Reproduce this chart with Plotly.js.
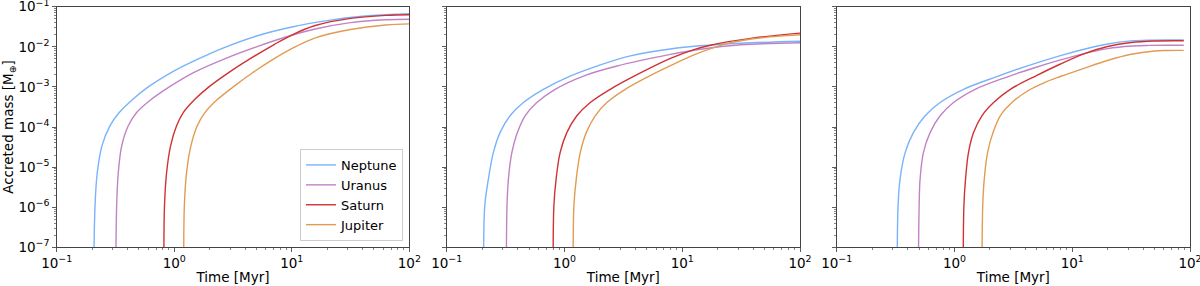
<!DOCTYPE html>
<html>
<head>
<meta charset="utf-8">
<script src="https://cdn.plot.ly/plotly-3.0.1.min.js"></script>
<style>html,body{margin:0;padding:0;background:#fff}#chart{width:1200px;height:286px}</style>
</head>
<body>
<div id="chart"></div>
<script>
// ---- data (Time in Myr, accreted mass in Earth masses) ----
const planets = ["Neptune", "Uranus", "Saturn", "Jupiter"];
const colors = ["#78b3fb", "#c084c4", "#d03234", "#e09c52"];

// Panel 1
const p1_neptune_t = [0.2061, 0.2118, 0.2213, 0.2427, 0.2838, 0.3404, 0.4477, 0.6012, 1.0, 1.5849, 2.6303, 5.0119, 10, 19.953, 39.811, 79.433, 100];
const p1_neptune_m = [1e-8, 1.07e-6, 7.24e-6, 3.39e-5, 1.07e-4, 2.29e-4, 5.01e-4, 1.0e-3, 2.518e-3, 4.909e-3, 9.441e-3, 1.858e-2, 3.119e-2, 4.498e-2, 5.768e-2, 6.531e-2, 6.683e-2];
const p1_uranus_t = [0.3177, 0.3236, 0.3342, 0.3573, 0.4064, 0.4786, 0.6209, 0.9078, 1.4454, 2.8184, 5.0119, 8.9125, 15.849, 31.623, 63.096, 100];
const p1_uranus_m = [1e-8, 1.07e-6, 7.24e-6, 3.39e-5, 1.07e-4, 2.29e-4, 4.581e-4, 1.0e-3, 2.249e-3, 5.321e-3, 1.0e-2, 1.754e-2, 2.780e-2, 4.009e-2, 4.742e-2, 4.875e-2];
const p1_saturn_t = [0.8166, 0.8260, 0.8610, 0.9311, 1.0471, 1.1940, 1.4997, 1.9724, 2.8840, 4.4668, 7.0795, 10, 15.849, 31.623, 63.096, 100];
const p1_saturn_m = [1e-8, 1.07e-6, 7.24e-6, 3.39e-5, 1.07e-4, 2.29e-4, 4.898e-4, 1.0e-3, 2.239e-3, 5.129e-3, 1.140e-2, 1.968e-2, 3.396e-2, 5.105e-2, 6.067e-2, 6.281e-2];
const p1_jupiter_t = [1.2050, 1.2190, 1.2735, 1.3868, 1.5704, 1.8239, 2.2909, 3.1769, 4.5709, 6.6069, 10, 15.849, 31.623, 63.096, 100];
const p1_jupiter_m = [1e-8, 1.07e-6, 7.24e-6, 3.39e-5, 1.07e-4, 2.29e-4, 4.634e-4, 1.0e-3, 2.188e-3, 4.467e-3, 9.016e-3, 1.675e-2, 2.698e-2, 3.499e-2, 3.724e-2];

// Panel 2
const p2_neptune_t = [0.2061, 0.2104, 0.2259, 0.2489, 0.2838, 0.3451, 0.4477, 0.6622, 1.1169, 1.8880, 3.6308, 7.9433, 14.125, 31.623, 100];
const p2_neptune_m = [1e-8, 1.07e-6, 5.012e-6, 2.291e-5, 7.244e-5, 1.905e-4, 4.074e-4, 8.710e-4, 1.862e-3, 3.311e-3, 5.929e-3, 8.810e-3, 1.059e-2, 1.230e-2, 1.380e-2];
const p2_uranus_t = [0.3206, 0.3251, 0.3342, 0.3573, 0.3981, 0.4634, 0.5821, 0.8337, 1.4521, 2.7925, 7.9250, 14.256, 31.623, 100];
const p2_uranus_m = [1e-8, 1.07e-6, 5.012e-6, 2.291e-5, 7.244e-5, 1.905e-4, 4.074e-4, 8.710e-4, 1.862e-3, 3.311e-3, 6.457e-3, 8.710e-3, 1.122e-2, 1.259e-2];
const p2_saturn_t = [0.8017, 0.8128, 0.8492, 0.9183, 1.0471, 1.2735, 1.6558, 2.4491, 4.1687, 7.9433, 12.589, 17.378, 38.019, 100];
const p2_saturn_m = [1e-8, 1.07e-6, 5.012e-6, 2.291e-5, 7.244e-5, 1.905e-4, 4.074e-4, 8.710e-4, 2.042e-3, 5.129e-3, 8.511e-3, 1.096e-2, 1.622e-2, 2.188e-2];
const p2_jupiter_t = [1.1858, 1.2023, 1.2589, 1.3614, 1.5311, 1.8239, 2.2909, 3.2810, 5.0119, 7.9433, 12.589, 23.988, 39.811, 63.096, 100];
const p2_jupiter_m = [1e-8, 1.07e-6, 5.012e-6, 2.291e-5, 7.244e-5, 1.905e-4, 4.074e-4, 8.710e-4, 1.738e-3, 3.388e-3, 6.310e-3, 1.202e-2, 1.585e-2, 1.820e-2, 1.995e-2];

// Panel 3
const p3_neptune_t = [0.3258, 0.3319, 0.3451, 0.3811, 0.4477, 0.5636, 0.7551, 1.1940, 2.2909, 4.1687, 7.9433, 12.589, 19.953, 31.623, 44.668, 88.51];
const p3_neptune_m = [1e-8, 1.07e-6, 5.012e-6, 2.291e-5, 7.244e-5, 1.905e-4, 4.074e-4, 8.710e-4, 1.807e-3, 3.342e-3, 6.039e-3, 8.710e-3, 1.175e-2, 1.403e-2, 1.469e-2, 1.479e-2];
const p3_uranus_t = [0.4920, 0.5012, 0.5105, 0.5445, 0.6209, 0.7551, 0.9817, 1.4997, 2.8184, 5.0119, 7.9433, 12.589, 19.953, 31.623, 44.668, 88.51];
const p3_uranus_m = [1e-8, 1.07e-6, 5.012e-6, 2.291e-5, 7.244e-5, 1.905e-4, 4.074e-4, 8.710e-4, 1.786e-3, 3.133e-3, 4.710e-3, 6.761e-3, 9.016e-3, 1.047e-2, 1.084e-2, 1.089e-2];
const p3_saturn_t = [1.1858, 1.2023, 1.2417, 1.3152, 1.4521, 1.7100, 2.1478, 2.9785, 5.0119, 7.9433, 12.589, 19.953, 31.623, 50.119, 88.51];
const p3_saturn_m = [1e-8, 1.07e-6, 5.012e-6, 2.291e-5, 7.244e-5, 1.905e-4, 4.074e-4, 8.710e-4, 1.936e-3, 3.724e-3, 6.653e-3, 1.016e-2, 1.279e-2, 1.396e-2, 1.413e-2];
const p3_jupiter_t = [1.7100, 1.7378, 1.7906, 1.9099, 2.1232, 2.4491, 3.0761, 4.1687, 5.7544, 7.9433, 12.589, 19.953, 31.623, 50.119, 63.096, 88.51];
const p3_jupiter_m = [1e-8, 1.07e-6, 5.012e-6, 2.291e-5, 7.244e-5, 1.905e-4, 4.074e-4, 7.907e-4, 1.265e-3, 1.816e-3, 2.911e-3, 4.550e-3, 6.501e-3, 7.852e-3, 8.091e-3, 8.128e-3];

// tick labels
const xTickVals = [0.1, 1, 10, 100];
const xTickText = ["10<sup>−1</sup>", "10<sup>0</sup>", "10<sup>1</sup>", "10<sup>2</sup>"];
const yTickVals = [1e-7, 1e-6, 1e-5, 1e-4, 1e-3, 1e-2, 1e-1];
const yTickText = ["10<sup>−7</sup>", "10<sup>−6</sup>", "10<sup>−5</sup>", "10<sup>−4</sup>", "10<sup>−3</sup>", "10<sup>−2</sup>", "10<sup>−1</sup>"];
const xTitle = "Time [Myr]";
const yTitle = "Accreted mass [M<sub>⊕</sub>]";

// ---- build ----
const panels = [
  [[p1_neptune_t, p1_neptune_m], [p1_uranus_t, p1_uranus_m], [p1_saturn_t, p1_saturn_m], [p1_jupiter_t, p1_jupiter_m]],
  [[p2_neptune_t, p2_neptune_m], [p2_uranus_t, p2_uranus_m], [p2_saturn_t, p2_saturn_m], [p2_jupiter_t, p2_jupiter_m]],
  [[p3_neptune_t, p3_neptune_m], [p3_uranus_t, p3_uranus_m], [p3_saturn_t, p3_saturn_m], [p3_jupiter_t, p3_jupiter_m]]
];

const traces = [];
panels.forEach((series, pi) => {
  series.forEach((s, si) => {
    traces.push({
      x: s[0], y: s[1], type: "scatter", mode: "lines",
      name: planets[si],
      line: {color: colors[si], width: 1.4, shape: "spline", smoothing: 1.0},
      xaxis: pi === 0 ? "x" : "x" + (pi + 1),
      yaxis: pi === 0 ? "y" : "y" + (pi + 1),
      showlegend: pi === 0,
      hoverinfo: "skip"
    });
  });
});

function minorVals(lo, hi) {
  const v = [];
  for (let e = lo; e < hi; e++) for (let k = 2; k <= 9; k++) v.push(k * Math.pow(10, e));
  return v;
}

const W = 1200, H = 286;
const xdoms = [[56.7, 409.3], [446.7, 800], [836.7, 1190]];
const ydom = [1 - 247.3 / H, 1 - 6.7 / H];
const FF = "DejaVu Sans, sans-serif";
const FS = 13.5;

const layout = {
  width: W, height: H,
  margin: {l: 0, r: 0, t: 0, b: 0},
  paper_bgcolor: "#fff", plot_bgcolor: "#fff",
  font: {family: FF, size: FS, color: "#000"},
  showlegend: true,
  legend: {
    x: 403 / W, xanchor: "right", y: 1 - 241 / H, yanchor: "bottom",
    bgcolor: "rgba(255,255,255,0.8)", bordercolor: "#cccccc", borderwidth: 1,
    font: {family: FF, size: 13, color: "#000"},
    tracegroupgap: 0, itemwidth: 30
  }
};

xdoms.forEach((d, i) => {
  const sx = i === 0 ? "xaxis" : "xaxis" + (i + 1);
  const sy = i === 0 ? "yaxis" : "yaxis" + (i + 1);
  layout[sx] = {
    type: "log", range: [-1, 2], domain: [d[0] / W, d[1] / W],
    anchor: i === 0 ? "y" : "y" + (i + 1),
    showgrid: false, zeroline: false,
    showline: true, mirror: true, linecolor: "#444", linewidth: 1,
    ticks: "outside", ticklen: 3.5, tickwidth: 0.8, tickcolor: "#333",
    tickmode: "array", tickvals: xTickVals, ticktext: xTickText,
    ticklabeloverflow: "allow",
    tickfont: {family: FF, size: FS, color: "#000"},
    minor: {tickmode: "array", tickvals: minorVals(-1, 2), ticks: "outside", ticklen: 2, tickwidth: 0.6, tickcolor: "#333", showgrid: false},
    title: {text: xTitle, standoff: 2, font: {family: FF, size: FS, color: "#000"}}
  };
  layout[sy] = {
    type: "log", range: [-7, -1], domain: ydom,
    anchor: i === 0 ? "x" : "x" + (i + 1),
    showgrid: false, zeroline: false,
    showline: true, mirror: true, linecolor: "#444", linewidth: 1,
    ticks: "outside", ticklen: 3.5, tickwidth: 0.8, tickcolor: "#333",
    tickmode: "array", tickvals: yTickVals, ticktext: yTickText,
    showticklabels: i === 0, ticklabeloverflow: "allow",
    tickfont: {family: FF, size: FS, color: "#000"},
    minor: {tickmode: "array", tickvals: minorVals(-7, -1), ticks: "outside", ticklen: 2, tickwidth: 0.6, tickcolor: "#333", showgrid: false}
  };
  if (i === 0) {
    layout[sy].title = {text: yTitle, standoff: 2, font: {family: FF, size: FS, color: "#000"}};
  }
});

Plotly.newPlot("chart", traces, layout, {staticPlot: true, displayModeBar: false});
</script>
</body>
</html>
